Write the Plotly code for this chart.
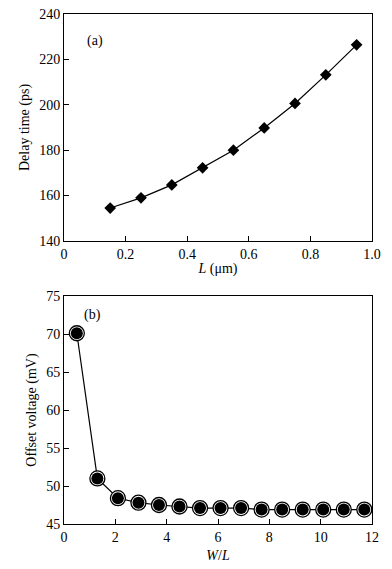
import plotly.graph_objects as go

# Panel (a)
L_um = [0.15, 0.25, 0.35, 0.45, 0.55, 0.65, 0.75, 0.85, 0.95]
delay_ps = [154.5, 159.0, 164.7, 172.2, 180.0, 189.8, 200.6, 213.2, 226.4]

# Panel (b)
WL = [0.5, 1.3, 2.1, 2.9, 3.7, 4.5, 5.3, 6.1, 6.9, 7.7, 8.5, 9.3, 10.1, 10.9, 11.7]
offset_mV = [70.1, 51.0, 48.4, 47.8, 47.5, 47.3, 47.1, 47.1, 47.1, 46.9, 46.9, 46.9, 46.9, 46.9, 46.9]

FONT = "Liberation Serif"

fig = go.Figure()
fig.add_trace(go.Scatter(x=L_um, y=delay_ps, mode="lines+markers",
                         line=dict(color="black", width=1.2),
                         marker=dict(symbol="diamond", size=9, color="black"),
                         xaxis="x", yaxis="y", showlegend=False))
fig.add_trace(go.Scatter(x=WL, y=offset_mV, mode="lines+markers",
                         line=dict(color="black", width=1.2),
                         marker=dict(symbol="circle", size=15, color="white",
                                     line=dict(color="black", width=1.3)),
                         xaxis="x2", yaxis="y2", showlegend=False))
fig.add_trace(go.Scatter(x=WL, y=offset_mV, mode="markers",
                         marker=dict(symbol="circle", size=12, color="black"),
                         xaxis="x2", yaxis="y2", showlegend=False))

axis_common = dict(showline=True, linecolor="black", linewidth=1, mirror=True,
                   ticks="inside", ticklen=5, tickcolor="black", showgrid=False,
                   zeroline=False, automargin=False,
                   tickfont=dict(family=FONT, size=14, color="black"))

fig.update_layout(
    width=392, height=569,
    margin=dict(l=64, r=20, t=14, b=45),
    paper_bgcolor="white", plot_bgcolor="white",
    font=dict(family=FONT, color="black"),
    xaxis=dict(domain=[0, 1], anchor="y", range=[0, 1.0], tickvals=[0, 0.2, 0.4, 0.6, 0.8, 1.0],
               ticktext=["0", "0.2", "0.4", "0.6", "0.8", "1.0"],
               title=dict(text="<i>L</i> (μm)", font=dict(family=FONT, size=14), standoff=2),
               **axis_common),
    yaxis=dict(domain=[0.555, 1], anchor="x", range=[140, 240], dtick=20,
               title=dict(text="Delay time (ps)", font=dict(family=FONT, size=14), standoff=6),
               **axis_common),
    xaxis2=dict(domain=[0, 1], anchor="y2", range=[0, 12], dtick=2,
                title=dict(text="<i>W</i>/<i>L</i>", font=dict(family=FONT, size=14), standoff=6),
                **axis_common),
    yaxis2=dict(domain=[0, 0.447], anchor="x2", range=[45, 75], dtick=5,
                title=dict(text="Offset voltage (mV)", font=dict(family=FONT, size=14), standoff=6),
                **axis_common),
    annotations=[
        dict(text="(a)", xref="x", yref="y", x=0.1, y=228, showarrow=False,
             font=dict(family=FONT, size=14, color="black")),
        dict(text="(b)", xref="x2", yref="y2", x=1.12, y=72.5, showarrow=False,
             font=dict(family=FONT, size=14, color="black")),
    ],
)

fig.write_html("out.html", config={"displayModeBar": False},
               post_script="document.body.style.margin='0px';")
